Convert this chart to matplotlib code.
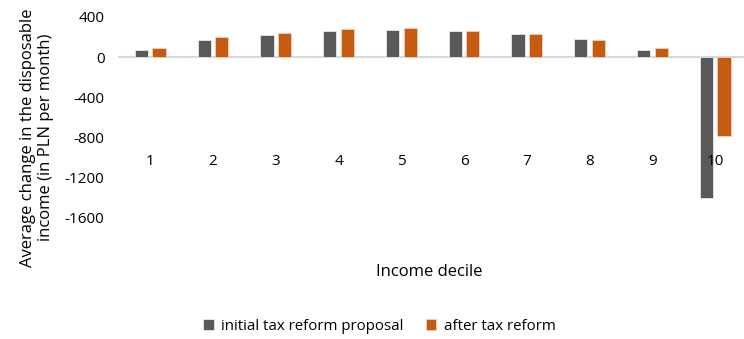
import numpy as np
import matplotlib.pyplot as plt

plt.rcParams['font.family'] = ['Open Sans', 'DejaVu Sans']

deciles = [1, 2, 3, 4, 5, 6, 7, 8, 9, 10]
initial_proposal = [67, 166, 216, 256, 272, 262, 229, 176, 70, -1400]
after_reform = [87, 200, 240, 279, 289, 265, 235, 169, 87, -780]
yticks = [400, 0, -400, -800, -1200, -1600]

GRAY = '#595959'
ORANGE = '#C55A11'

fig = plt.figure(figsize=(7.44, 3.39), dpi=100)
ax = fig.add_axes([0.159, 0.357, 0.841, 0.593])

x = np.array(deciles)
w = 0.21
ax.bar(x - 0.14, initial_proposal, w, color=GRAY, edgecolor='#e8e8e8', linewidth=0.6,
       label='initial tax reform proposal')
ax.bar(x + 0.14, after_reform, w, color=ORANGE, edgecolor='#f2d0bb', linewidth=0.6,
       label='after tax reform')

ax.axhline(0, color='#d9d9d9', linewidth=1.5, zorder=0)
ax.set_ylim(-1600, 400)
ax.set_xlim(0.49, 10.46)
ax.set_yticks(yticks)
ax.set_yticklabels([str(v) for v in yticks], fontsize=11)
ax.tick_params(axis='y', length=0, pad=10)
ax.set_xticks([])
for s in ax.spines.values():
    s.set_visible(False)

# category labels sit inside the plot, Excel-style
for d in deciles:
    ax.text(d, 0.28, str(d), transform=ax.get_xaxis_transform(),
            ha='center', va='center', fontsize=11)

fig.text(0.577, 0.197, 'Income decile', ha='center', va='center', fontsize=12)
fig.text(0.05, 0.595, 'Average change in the disposable\nincome (in PLN per month)',
         rotation=90, ha='center', va='center', fontsize=12, linespacing=1.2)

fig.legend(loc='center', bbox_to_anchor=(0.51, 0.038), ncol=2, frameon=False,
           fontsize=10.8, handlelength=0.7, handleheight=0.7, columnspacing=1.5,
           handletextpad=0.5)

fig.savefig('out.png', dpi=100)
